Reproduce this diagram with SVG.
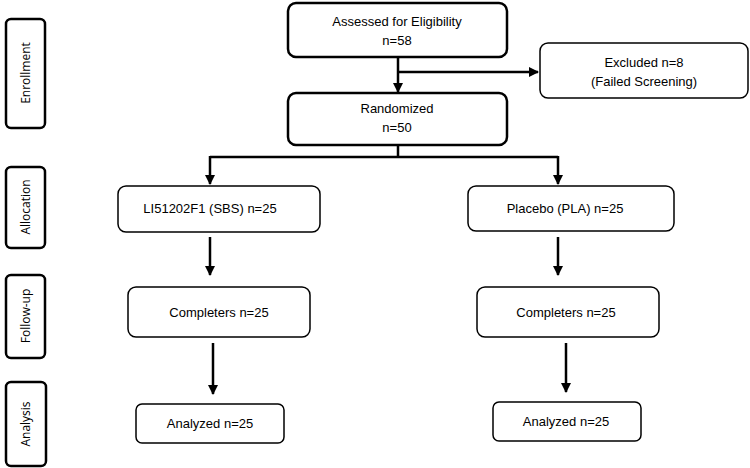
<svg xmlns="http://www.w3.org/2000/svg" width="750" height="468" viewBox="0 0 750 468">
<defs>
<marker id="ah" viewBox="0 0 10 10" refX="9" refY="5" markerWidth="4" markerHeight="4" orient="auto"><path d="M0,0 L10,5 L0,10 z" fill="#000"/></marker>
<style>
.b{fill:#fff;stroke:#000;stroke-width:1.5}
.bb{fill:#fff;stroke:#000;stroke-width:2.5}
.s{fill:#fff;stroke:#000;stroke-width:2.5}
.t{font-family:"Liberation Sans",Arial,sans-serif;font-size:13px;text-anchor:middle;fill:#000}
.st{font-family:"Open Sans",sans-serif;font-size:12px;text-anchor:middle;fill:#000}
.c{stroke:#000;stroke-width:2.5;fill:none}
</style>
</defs>
<rect width="750" height="468" fill="#fff"/>
<g id="side-enrollment"><rect class="s" x="6" y="19" width="39" height="109" rx="5"/><text class="st" transform="translate(30,73) rotate(-90)">Enrollment</text></g>
<g id="side-allocation"><rect class="s" x="6" y="167" width="39" height="81" rx="5"/><text class="st" transform="translate(30,207) rotate(-90)">Allocation</text></g>
<g id="side-followup"><rect class="s" x="6" y="275" width="39" height="83" rx="5"/><text class="st" transform="translate(30,316) rotate(-90)">Follow-up</text></g>
<g id="side-analysis"><rect class="s" x="6" y="382" width="40" height="84" rx="5"/><text class="st" transform="translate(30,424) rotate(-90)">Analysis</text></g>
<g id="assessed"><rect class="bb" x="288" y="3" width="219" height="54" rx="8"/><text class="t" x="397" y="26">Assessed for Eligibility</text><text class="t" x="397" y="45">n=58</text></g>
<g id="excluded"><rect class="b" x="540" y="43" width="208" height="55" rx="8"/><text class="t" x="644" y="67">Excluded n=8</text><text class="t" x="644" y="86">(Failed Screening)</text></g>
<g id="randomized"><rect class="bb" x="288" y="93" width="219" height="52" rx="8"/><text class="t" x="397" y="113">Randomized</text><text class="t" x="397" y="132">n=50</text></g>
<g id="li"><rect class="b" x="118" y="186" width="202" height="46" rx="8"/><text class="t" x="210" y="213">LI51202F1 (SBS) n=25</text></g>
<g id="pla"><rect class="b" x="468" y="186" width="206" height="45" rx="8"/><text class="t" x="565" y="213">Placebo (PLA) n=25</text></g>
<g id="comp-l"><rect class="b" x="128" y="287" width="182" height="50" rx="8"/><text class="t" x="219" y="317">Completers n=25</text></g>
<g id="comp-r"><rect class="b" x="477" y="287" width="182" height="50" rx="8"/><text class="t" x="566" y="317">Completers n=25</text></g>
<g id="ana-l"><rect class="b" x="136" y="404" width="148" height="39" rx="6"/><text class="t" x="210" y="428">Analyzed  n=25</text></g>
<g id="ana-r"><rect class="b" x="493" y="402" width="148" height="39" rx="6"/><text class="t" x="566" y="426">Analyzed  n=25</text></g>
<g id="connectors">
<path class="c" d="M398,57 V92" marker-end="url(#ah)"/>
<path class="c" d="M398,72 H538" marker-end="url(#ah)"/>
<path class="c" d="M398,145 V157 M210,157 H558"/>
<path class="c" d="M210,156 V184" marker-end="url(#ah)"/>
<path class="c" d="M558,156 V184" marker-end="url(#ah)"/>
<path class="c" d="M210,237 V275" marker-end="url(#ah)"/>
<path class="c" d="M558,237 V275" marker-end="url(#ah)"/>
<path class="c" d="M213,343 V394" marker-end="url(#ah)"/>
<path class="c" d="M566,343 V392" marker-end="url(#ah)"/>
</g>
</svg>
